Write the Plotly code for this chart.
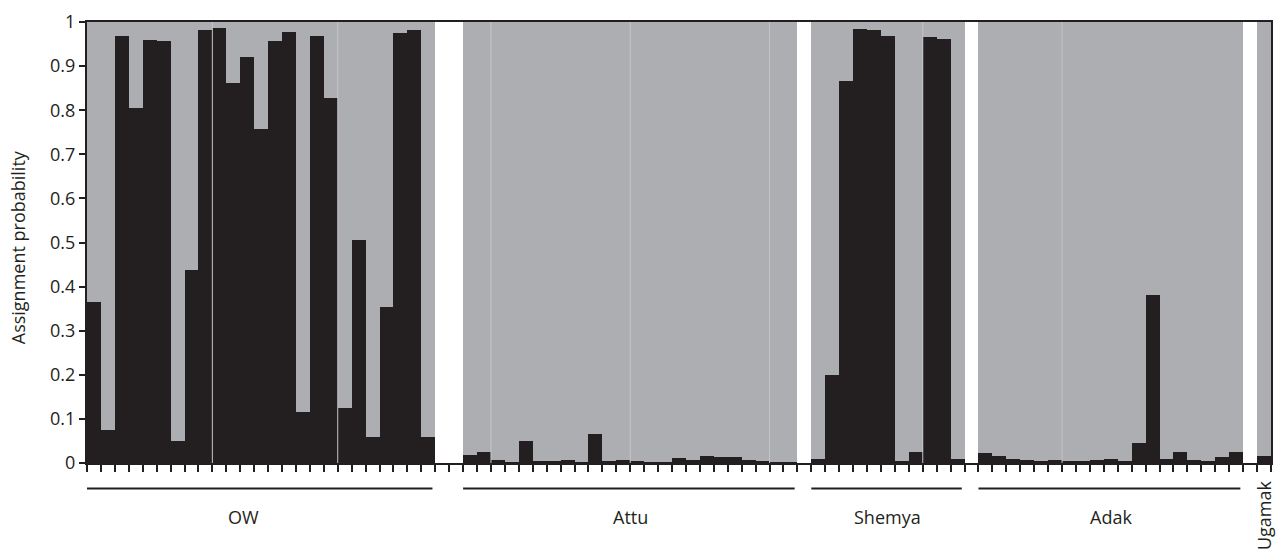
import plotly.graph_objects as go

# ---- data -----------------------------------------------------------------
groups = ["OW", "Attu", "Shemya", "Adak", "Ugamak"]
# empty slots placed before each group (white gaps)
gaps_before = [0, 2, 1, 1, 1]
# sub-block sizes within each group (thin separators between sub-blocks)
subblocks = [[9, 9, 7], [2, 10, 10, 2], [8, 3], [6, 13], [1]]

ow = [0.366, 0.075, 0.968, 0.805, 0.960, 0.957, 0.051, 0.438, 0.981,
      0.986, 0.861, 0.920, 0.758, 0.957, 0.977, 0.116, 0.968, 0.828,
      0.125, 0.506, 0.060, 0.353, 0.976, 0.983, 0.059]
attu = [0.019, 0.024, 0.007, 0.003, 0.049, 0.004, 0.004, 0.007, 0.003, 0.065,
        0.005, 0.006, 0.004, 0.003, 0.003, 0.011, 0.007, 0.017, 0.013, 0.013,
        0.007, 0.004, 0.002, 0.002]
shemya = [0.010, 0.200, 0.867, 0.985, 0.981, 0.968, 0.005, 0.024, 0.967,
          0.961, 0.010]
adak = [0.022, 0.016, 0.010, 0.007, 0.004, 0.006, 0.004, 0.004, 0.006, 0.008,
        0.004, 0.046, 0.380, 0.009, 0.025, 0.006, 0.005, 0.013, 0.024]
ugamak = [0.017]
values = [ow, attu, shemya, adak, ugamak]

y_ticks = [0, 0.1, 0.2, 0.3, 0.4, 0.5, 0.6, 0.7, 0.8, 0.9, 1]
y_tick_labels = ["0", "0.1", "0.2", "0.3", "0.4", "0.5", "0.6", "0.7", "0.8", "0.9", "1"]

# ---- build positions -------------------------------------------------------
DARK = "#231f20"
GREY = "#adaeb2"
SEP = "#c4c5c9"
FONT = "Open Sans"
FS = 18

xs, dark_vals, grey_vals = [], [], []
spans = []      # (start, end) of each group in slot units
separators = []
pos = 0
for g, gap, vals, blocks in zip(groups, gaps_before, values, subblocks):
    pos += gap
    start = pos
    for v in vals:
        xs.append(pos + 0.5)
        dark_vals.append(v)
        grey_vals.append(1 - v)
        pos += 1
    spans.append((start, pos))
    acc = start
    for b in blocks[:-1]:
        acc += b
        separators.append(acc)
total = pos

fig = go.Figure()
fig.add_trace(go.Bar(x=xs, y=dark_vals, marker=dict(color=DARK, line=dict(width=0)),
                     width=1, showlegend=False, hoverinfo="skip"))
fig.add_trace(go.Bar(x=xs, y=grey_vals, marker=dict(color=GREY, line=dict(width=0)),
                     width=1, showlegend=False, hoverinfo="skip"))

for s in separators:
    fig.add_shape(type="line", xref="x", yref="y", x0=s, x1=s, y0=0, y1=1,
                  line=dict(color=SEP, width=1), layer="above")

# group lines & labels
for g, (a, b) in zip(groups, spans):
    if g == "Ugamak":
        fig.add_annotation(x=(a + b) / 2, xref="x", y=-0.034, yref="paper",
                           text=g, textangle=-90, showarrow=False,
                           xanchor="center", yanchor="top",
                           font=dict(family=FONT, size=FS, color=DARK))
        continue
    fig.add_shape(type="line", xref="x", yref="paper", x0=a, x1=b - 0.2,
                  y0=-0.058, y1=-0.058, line=dict(color=DARK, width=2))
    cx = (a + b) / 2 if g != "OW" else (a + b) / 2 - 1.3
    fig.add_annotation(x=cx, xref="x", y=-0.123, yref="paper", text=g,
                       showarrow=False, xanchor="center", yanchor="middle",
                       font=dict(family=FONT, size=FS, color=DARK))

fig.add_annotation(x=-0.058, xref="paper", y=0.49, yref="paper",
                   text="Assignment probability", textangle=-90, showarrow=False,
                   xanchor="center", yanchor="middle",
                   font=dict(family=FONT, size=FS, color=DARK))

fig.update_layout(
    width=1282, height=553,
    margin=dict(l=87, r=9, t=16, b=90),
    barmode="stack", bargap=0,
    plot_bgcolor="white", paper_bgcolor="white",
    font=dict(family=FONT, size=FS, color=DARK),
    xaxis=dict(range=[0, total], tickvals=list(range(total + 1)), ticktext=[""] * (total + 1),
               ticks="outside", ticklen=7, tickwidth=2, tickcolor=DARK,
               showline=True, linecolor=DARK, linewidth=2, mirror=True,
               showgrid=False, zeroline=False, fixedrange=True),
    yaxis=dict(range=[0, 1], tickvals=y_ticks, ticktext=y_tick_labels,
               ticks="outside", ticklen=6, tickwidth=2, tickcolor=DARK,
               showline=True, linecolor=DARK, linewidth=2, mirror=True,
               showgrid=False, zeroline=False,
               tickfont=dict(family=FONT, size=FS, color=DARK)),
)

fig.write_html("out.html")
